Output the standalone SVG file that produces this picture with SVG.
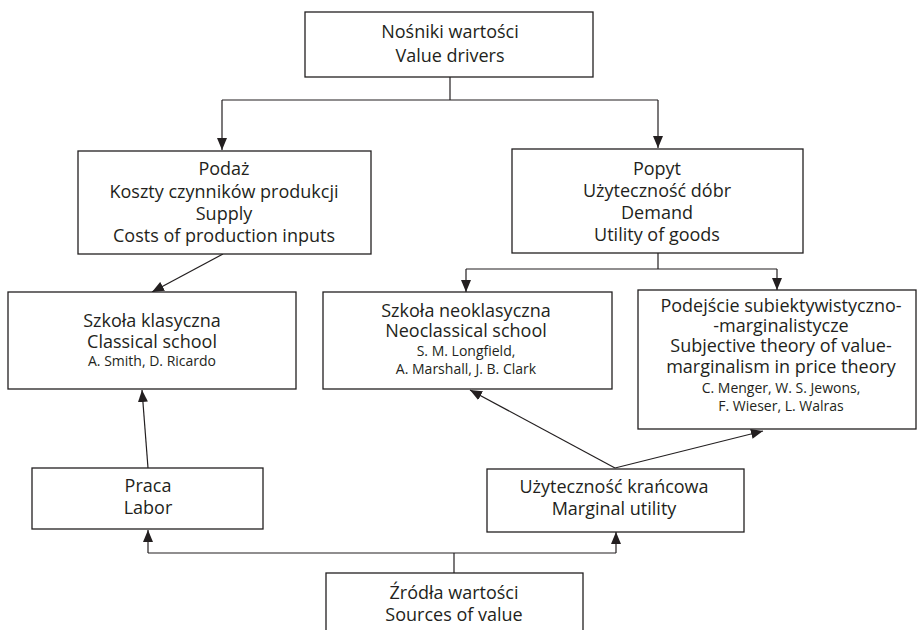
<svg xmlns="http://www.w3.org/2000/svg" width="917" height="630" viewBox="0 0 917 630">
<defs>
<style>
.box{fill:#fff;stroke:#231f20;stroke-width:1.3}
.t{font-family:"Open Sans","Liberation Sans",sans-serif;font-size:18px;fill:#231f20;text-anchor:middle}
.s{font-family:"Open Sans","Liberation Sans",sans-serif;font-size:14px;fill:#231f20;text-anchor:middle}
.c{fill:none;stroke:#231f20;stroke-width:1.2}
</style>
<marker id="ah" viewBox="0 0 12 10" refX="12" refY="5" markerWidth="12" markerHeight="10" markerUnits="userSpaceOnUse" orient="auto">
<path d="M0,0 L12,5 L0,10 z" fill="#231f20"/>
</marker>
</defs>
<rect width="917" height="630" fill="#fff"/>
<g id="connectors">
<path class="c" d="M450,77 V100"/>
<path class="c" d="M222,100 H658"/>
<path class="c" d="M222,100 V150" marker-end="url(#ah)"/>
<path class="c" d="M658,100 V148" marker-end="url(#ah)"/>
<path class="c" d="M223,254 L152,292" marker-end="url(#ah)"/>
<path class="c" d="M658,253 V269"/>
<path class="c" d="M466,269 H777"/>
<path class="c" d="M466,269 V292" marker-end="url(#ah)"/>
<path class="c" d="M777,269 V290" marker-end="url(#ah)"/>
<path class="c" d="M148,468 L142,390" marker-end="url(#ah)"/>
<path class="c" d="M615,468 L470,390" marker-end="url(#ah)"/>
<path class="c" d="M615,468 L763,431" marker-end="url(#ah)"/>
<path class="c" d="M454,573 V553"/>
<path class="c" d="M148,553 H616"/>
<path class="c" d="M148,553 V530" marker-end="url(#ah)"/>
<path class="c" d="M616,553 V532" marker-end="url(#ah)"/>
</g>
<g id="value-drivers">
<rect class="box" x="305" y="12" width="288" height="65"/>
<text class="t" x="450" y="38">Nośniki wartości</text>
<text class="t" x="450" y="62">Value drivers</text>
</g>
<g id="supply">
<rect class="box" x="78" y="151" width="293" height="103"/>
<text class="t" x="224" y="175">Podaż</text>
<text class="t" x="224" y="198">Koszty czynników produkcji</text>
<text class="t" x="224" y="220">Supply</text>
<text class="t" x="224" y="242">Costs of production inputs</text>
</g>
<g id="demand">
<rect class="box" x="512" y="149" width="291" height="104"/>
<text class="t" x="657" y="175">Popyt</text>
<text class="t" x="657" y="197">Użyteczność dóbr</text>
<text class="t" x="657" y="219">Demand</text>
<text class="t" x="657" y="241">Utility of goods</text>
</g>
<g id="classical">
<rect class="box" x="8" y="292" width="288" height="97"/>
<text class="t" x="152" y="327">Szkoła klasyczna</text>
<text class="t" x="152" y="348">Classical school</text>
<text class="s" x="152" y="366">A. Smith, D. Ricardo</text>
</g>
<g id="neoclassical">
<rect class="box" x="323" y="292" width="289" height="97"/>
<text class="t" x="466" y="317">Szkoła neoklasyczna</text>
<text class="t" x="466" y="337">Neoclassical school</text>
<text class="s" x="466" y="356">S. M. Longfield,</text>
<text class="s" x="466" y="374">A. Marshall, J. B. Clark</text>
</g>
<g id="subjective">
<rect class="box" x="638" y="290" width="278" height="139"/>
<text class="t" x="781" y="312">Podejście subiektywistyczno-</text>
<text class="t" x="781" y="332">-marginalistycze</text>
<text class="t" x="781" y="352">Subjective theory of value-</text>
<text class="t" x="781" y="373">marginalism in price theory</text>
<text class="s" x="781" y="393">C. Menger, W. S. Jewons,</text>
<text class="s" x="781" y="411">F. Wieser, L. Walras</text>
</g>
<g id="labor">
<rect class="box" x="32" y="468" width="231" height="61"/>
<text class="t" x="148" y="492">Praca</text>
<text class="t" x="148" y="514">Labor</text>
</g>
<g id="marginal-utility">
<rect class="box" x="487" y="469" width="257" height="63"/>
<text class="t" x="614" y="493">Użyteczność krańcowa</text>
<text class="t" x="614" y="515">Marginal utility</text>
</g>
<g id="sources">
<rect class="box" x="326" y="573" width="257" height="70"/>
<text class="t" x="454" y="599">Źródła wartości</text>
<text class="t" x="454" y="621">Sources of value</text>
</g>
</svg>
